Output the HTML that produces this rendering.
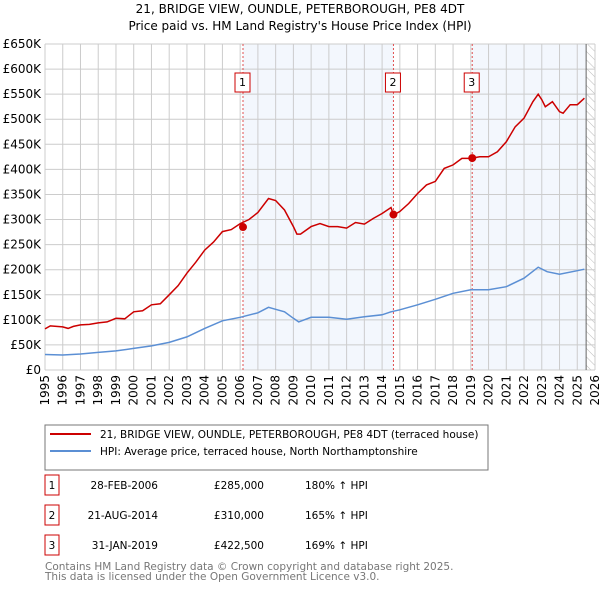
<!DOCTYPE html>
<html><head><meta charset="utf-8"><style>
body{margin:0;background:#fff;font-family:"Liberation Sans","DejaVu Sans",sans-serif;}
svg text{font-family:"DejaVu Sans","Liberation Sans",sans-serif;}
</style></head><body>
<svg id="c" width="600" height="590" xmlns="http://www.w3.org/2000/svg">
<defs><pattern id="hatch" width="6" height="6" patternUnits="userSpaceOnUse" patternTransform="rotate(-45)"><line x1="0" y1="0" x2="0" y2="6" stroke="#bbb" stroke-width="1"/></pattern></defs>
<text x="300" y="13" text-anchor="middle" font-size="12">21, BRIDGE VIEW, OUNDLE, PETERBOROUGH, PE8 4DT</text>
<text x="300" y="30" text-anchor="middle" font-size="12">Price paid vs. HM Land Registry's House Price Index (HPI)</text>
<g id="plot"></g>
<rect x="45" y="425" width="443" height="45" fill="#fff" stroke="#777"/>
<line x1="50" y1="434" x2="91" y2="434" stroke="#cc0000" stroke-width="2"/>
<text x="100" y="438" font-size="10.5">21, BRIDGE VIEW, OUNDLE, PETERBOROUGH, PE8 4DT (terraced house)</text>
<line x1="50" y1="451" x2="91" y2="451" stroke="#5b8fd4" stroke-width="2"/>
<text x="100" y="455" font-size="10.5">HPI: Average price, terraced house, North Northamptonshire</text>
<g id="table" font-size="10.5"></g>
<text x="45" y="570" font-size="10.5" fill="#777">Contains HM Land Registry data © Crown copyright and database right 2025.</text>
<text x="45" y="580" font-size="10.5" fill="#777">This data is licensed under the Open Government Licence v3.0.</text>
</svg>
<script>
const yTicks=[0,50,100,150,200,250,300,350,400,450,500,550,600,650];
const xYears=[1995,1996,1997,1998,1999,2000,2001,2002,2003,2004,2005,2006,2007,2008,2009,2010,2011,2012,2013,2014,2015,2016,2017,2018,2019,2020,2021,2022,2023,2024,2025,2026];
const redT=[1995,1995.3,1996,1996.3,1996.6,1997,1997.5,1998,1998.5,1999,1999.5,2000,2000.5,2001,2001.5,2002,2002.5,2003,2003.5,2004,2004.5,2005,2005.5,2006,2006.5,2007,2007.6,2008,2008.5,2009,2009.2,2009.4,2010,2010.5,2011,2011.5,2012,2012.5,2013,2013.5,2014,2014.5,2014.64,2015,2015.5,2016,2016.5,2017,2017.5,2018,2018.5,2019,2019.5,2020,2020.5,2021,2021.5,2022,2022.5,2022.8,2023,2023.2,2023.6,2024,2024.2,2024.6,2025,2025.4];
const redV=[82,88,86,83,87,90,91,94,96,103,102,116,118,130,132,150,168,193,215,239,255,276,280,292,300,314,342,338,319,286,271,271,286,292,286,286,283,294,291,302,312,324,309,316,332,352,369,376,402,409,422,422,425,425,435,455,485,502,535,550,539,525,535,515,512,529,529,542];
const blueT=[1995,1996,1997,1998,1999,2000,2001,2002,2003,2004,2005,2006,2007,2007.6,2008,2008.5,2009,2009.3,2010,2011,2012,2013,2014,2014.5,2015,2016,2017,2018,2019,2020,2021,2022,2022.8,2023.3,2024,2025,2025.4];
const blueV=[31,30,32,35,38,43,48,55,66,83,98,105,114,125,121,116,103,96,105,105,101,106,110,116,120,130,141,153,160,160,166,183,205,196,191,198,201];
const saleT=[2006.16,2014.64,2019.08];
const saleV=[285,310,422.5];
const saleLabels=["1","2","3"];
const saleDates=["28-FEB-2006","21-AUG-2014","31-JAN-2019"];
const salePrices=["£285,000","£310,000","£422,500"];
const saleHpi=["180% ↑ HPI","165% ↑ HPI","169% ↑ HPI"];
const X0=45,X1=595,Y0=370,Y1=44;
const xs=t=>X0+(t-1995)/31*(X1-X0);
const ys=v=>Y0-v/650*(Y0-Y1);
const NS="http://www.w3.org/2000/svg";
const plot=document.getElementById('plot');
function mk(tag,attrs,parent){const e=document.createElementNS(NS,tag);for(const k in attrs)e.setAttribute(k,attrs[k]);(parent||plot).appendChild(e);return e;}
let e;
e=mk('rect',{x:xs(saleT[0]),y:Y1,width:xs(saleT[1])-xs(saleT[0]),height:Y0-Y1,fill:'#eef3fc',opacity:0.7});


e=mk('rect',{x:xs(saleT[2]),y:Y1,width:xs(2025.5)-xs(saleT[2]),height:Y0-Y1,fill:'#eef3fc',opacity:0.7});


e=mk('rect',{x:xs(2025.5),y:Y1,width:X1-xs(2025.5),height:Y0-Y1,fill:'url(#hatch)'});


yTicks.forEach(v=>{
 e=mk('line',{x1:X0,x2:X1,y1:ys(v),y2:ys(v),stroke:'#ccc'});
 
 
 e=mk('text',{x:X0-4,y:ys(v)+4,'text-anchor':'end','font-size':12});
 e.textContent=v===0?'£0':'£'+v+'K';
 
 
});
xYears.forEach(t=>{
 e=mk('line',{x1:xs(t),x2:xs(t),y1:Y1,y2:Y0,stroke:'#ccc'});
 
 
 e=mk('text',{transform:`translate(${xs(t)+4},${Y0+5}) rotate(-90)`,'text-anchor':'end','font-size':12});
 e.textContent=t;
 
 
});
e=mk('line',{x1:xs(2025.5),x2:xs(2025.5),y1:Y1,y2:Y0,stroke:'#666'});


saleT.forEach((t,i)=>{
 e=mk('line',{x1:xs(t),x2:xs(t),y1:Y1,y2:Y0,stroke:'#e05050','stroke-dasharray':'2,2'});
 
 
 e=mk('rect',{x:xs(t)-8,y:73,width:15,height:19,fill:'#fff',stroke:'#cc0000'});
 
 
 e=mk('text',{x:xs(t)-0.5,y:86,'text-anchor':'middle','font-size':11});
 e.textContent=saleLabels[i];
 
 
});
const path=(T,V)=>T.map((t,i)=>(i?'L':'M')+xs(t).toFixed(1)+','+ys(V[i]).toFixed(1)).join('');
e=mk('path',{d:path(blueT,blueV),fill:'none',stroke:'#5b8fd4','stroke-width':1.5});


e=mk('path',{d:path(redT,redV),fill:'none',stroke:'#cc0000','stroke-width':1.5});


saleT.forEach((t,i)=>{
 e=mk('circle',{cx:xs(t),cy:ys(saleV[i]),r:4,fill:'#cc0000'});
 
 
});
const tb=document.getElementById('table');
saleT.forEach((t,i)=>{
 const cy=485+i*30;
 e=mk('rect',{x:45,y:cy-10,width:14,height:20,fill:'#fff',stroke:'#cc0000'},tb);
 
 
 e=mk('text',{x:52,y:cy+4,'text-anchor':'middle'},tb);
 e.textContent=saleLabels[i];
 
 
 e=mk('text',{x:158,y:cy+4,'text-anchor':'end'},tb);
 e.textContent=saleDates[i];
 
 
 e=mk('text',{x:264,y:cy+4,'text-anchor':'end'},tb);
 e.textContent=salePrices[i];
 
 
 e=mk('text',{x:305,y:cy+4},tb);
 e.textContent=saleHpi[i];
 
 
});
</script>
</body></html>
